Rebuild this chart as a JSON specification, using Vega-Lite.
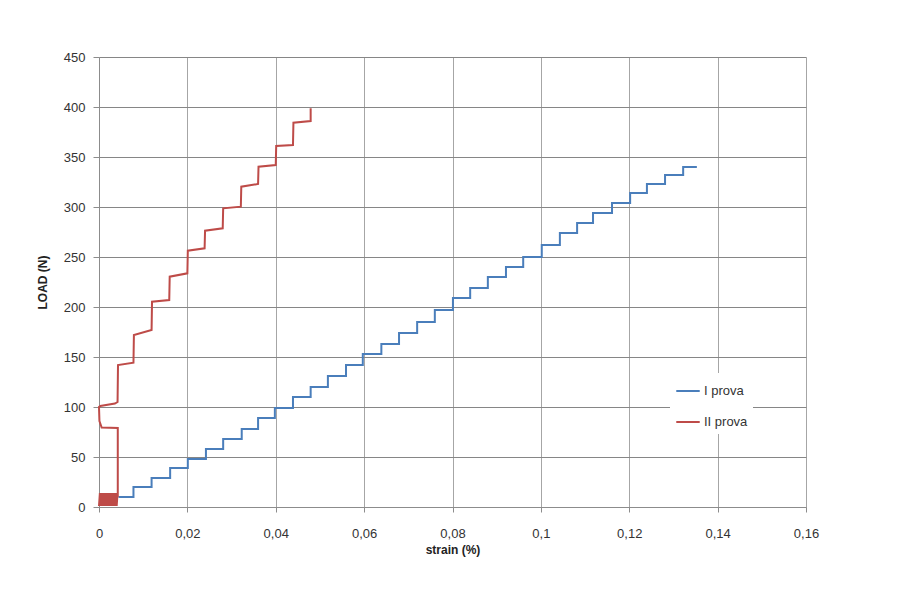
{
  "$schema": "https://vega.github.io/schema/vega-lite/v6.json",
  "width": 707,
  "height": 450,
  "autosize": {"type": "none"},
  "padding": {"left": 99, "top": 57, "right": 97, "bottom": 87},
  "background": "white",
  "config": {
    "view": {"stroke": null},
    "font": "Liberation Sans",
    "axis": {"labelFont": "Liberation Sans", "titleFont": "Liberation Sans", "labelColor": "#333333", "titleColor": "#222222", "labelFontSize": 13, "titleFontSize": 12, "titleFontWeight": "bold"},
    "legend": {"labelFont": "Liberation Sans"}
  },
  "data": {
    "values": [
      {"s": "I prova", "i": 0, "x": 0.0044, "y": 10},
      {"s": "I prova", "i": 1, "x": 0.0078, "y": 10},
      {"s": "I prova", "i": 2, "x": 0.0078, "y": 20},
      {"s": "I prova", "i": 3, "x": 0.0119, "y": 20},
      {"s": "I prova", "i": 4, "x": 0.0119, "y": 29},
      {"s": "I prova", "i": 5, "x": 0.0161, "y": 29},
      {"s": "I prova", "i": 6, "x": 0.0161, "y": 39},
      {"s": "I prova", "i": 7, "x": 0.0201, "y": 39},
      {"s": "I prova", "i": 8, "x": 0.0201, "y": 48},
      {"s": "I prova", "i": 9, "x": 0.0242, "y": 48},
      {"s": "I prova", "i": 10, "x": 0.0242, "y": 58},
      {"s": "I prova", "i": 11, "x": 0.0281, "y": 58},
      {"s": "I prova", "i": 12, "x": 0.0281, "y": 68},
      {"s": "I prova", "i": 13, "x": 0.0323, "y": 68},
      {"s": "I prova", "i": 14, "x": 0.0323, "y": 78},
      {"s": "I prova", "i": 15, "x": 0.036, "y": 78},
      {"s": "I prova", "i": 16, "x": 0.036, "y": 89},
      {"s": "I prova", "i": 17, "x": 0.0398, "y": 89},
      {"s": "I prova", "i": 18, "x": 0.0398, "y": 99},
      {"s": "I prova", "i": 19, "x": 0.0439, "y": 99},
      {"s": "I prova", "i": 20, "x": 0.0439, "y": 110},
      {"s": "I prova", "i": 21, "x": 0.0479, "y": 110},
      {"s": "I prova", "i": 22, "x": 0.0479, "y": 120},
      {"s": "I prova", "i": 23, "x": 0.0518, "y": 120},
      {"s": "I prova", "i": 24, "x": 0.0518, "y": 131},
      {"s": "I prova", "i": 25, "x": 0.0559, "y": 131},
      {"s": "I prova", "i": 26, "x": 0.0559, "y": 142},
      {"s": "I prova", "i": 27, "x": 0.0597, "y": 142},
      {"s": "I prova", "i": 28, "x": 0.0597, "y": 153},
      {"s": "I prova", "i": 29, "x": 0.0639, "y": 153},
      {"s": "I prova", "i": 30, "x": 0.0639, "y": 163},
      {"s": "I prova", "i": 31, "x": 0.0679, "y": 163},
      {"s": "I prova", "i": 32, "x": 0.0679, "y": 174},
      {"s": "I prova", "i": 33, "x": 0.072, "y": 174},
      {"s": "I prova", "i": 34, "x": 0.072, "y": 185},
      {"s": "I prova", "i": 35, "x": 0.076, "y": 185},
      {"s": "I prova", "i": 36, "x": 0.076, "y": 197},
      {"s": "I prova", "i": 37, "x": 0.0801, "y": 197},
      {"s": "I prova", "i": 38, "x": 0.0801, "y": 209},
      {"s": "I prova", "i": 39, "x": 0.084, "y": 209},
      {"s": "I prova", "i": 40, "x": 0.084, "y": 219},
      {"s": "I prova", "i": 41, "x": 0.088, "y": 219},
      {"s": "I prova", "i": 42, "x": 0.088, "y": 230},
      {"s": "I prova", "i": 43, "x": 0.0921, "y": 230},
      {"s": "I prova", "i": 44, "x": 0.0921, "y": 240},
      {"s": "I prova", "i": 45, "x": 0.096, "y": 240},
      {"s": "I prova", "i": 46, "x": 0.096, "y": 250},
      {"s": "I prova", "i": 47, "x": 0.1002, "y": 250},
      {"s": "I prova", "i": 48, "x": 0.1002, "y": 262},
      {"s": "I prova", "i": 49, "x": 0.1043, "y": 262},
      {"s": "I prova", "i": 50, "x": 0.1043, "y": 274},
      {"s": "I prova", "i": 51, "x": 0.1082, "y": 274},
      {"s": "I prova", "i": 52, "x": 0.1082, "y": 284},
      {"s": "I prova", "i": 53, "x": 0.1118, "y": 284},
      {"s": "I prova", "i": 54, "x": 0.1118, "y": 294},
      {"s": "I prova", "i": 55, "x": 0.1161, "y": 294},
      {"s": "I prova", "i": 56, "x": 0.1161, "y": 304},
      {"s": "I prova", "i": 57, "x": 0.1202, "y": 304},
      {"s": "I prova", "i": 58, "x": 0.1202, "y": 314},
      {"s": "I prova", "i": 59, "x": 0.124, "y": 314},
      {"s": "I prova", "i": 60, "x": 0.124, "y": 323},
      {"s": "I prova", "i": 61, "x": 0.1281, "y": 323},
      {"s": "I prova", "i": 62, "x": 0.1281, "y": 332},
      {"s": "I prova", "i": 63, "x": 0.1322, "y": 332},
      {"s": "I prova", "i": 64, "x": 0.1322, "y": 340},
      {"s": "I prova", "i": 65, "x": 0.1353, "y": 340},
      {"s": "II prova", "i": 0, "x": 0.0, "y": 1},
      {"s": "II prova", "i": 1, "x": 0.0002, "y": 14},
      {"s": "II prova", "i": 2, "x": 0.0004, "y": 1},
      {"s": "II prova", "i": 3, "x": 0.0006, "y": 14},
      {"s": "II prova", "i": 4, "x": 0.0008, "y": 1},
      {"s": "II prova", "i": 5, "x": 0.001, "y": 14},
      {"s": "II prova", "i": 6, "x": 0.0012, "y": 1},
      {"s": "II prova", "i": 7, "x": 0.0014, "y": 14},
      {"s": "II prova", "i": 8, "x": 0.0016, "y": 1},
      {"s": "II prova", "i": 9, "x": 0.0018, "y": 14},
      {"s": "II prova", "i": 10, "x": 0.002, "y": 1},
      {"s": "II prova", "i": 11, "x": 0.0022, "y": 14},
      {"s": "II prova", "i": 12, "x": 0.0024, "y": 1},
      {"s": "II prova", "i": 13, "x": 0.0026, "y": 14},
      {"s": "II prova", "i": 14, "x": 0.0028, "y": 1},
      {"s": "II prova", "i": 15, "x": 0.003, "y": 14},
      {"s": "II prova", "i": 16, "x": 0.0032, "y": 1},
      {"s": "II prova", "i": 17, "x": 0.0034, "y": 14},
      {"s": "II prova", "i": 18, "x": 0.0036, "y": 1},
      {"s": "II prova", "i": 19, "x": 0.0038, "y": 14},
      {"s": "II prova", "i": 20, "x": 0.004, "y": 1},
      {"s": "II prova", "i": 21, "x": 0.0042, "y": 14},
      {"s": "II prova", "i": 22, "x": 0.00425, "y": 10},
      {"s": "II prova", "i": 23, "x": 0.00425, "y": 79},
      {"s": "II prova", "i": 24, "x": 0.0006, "y": 79.5},
      {"s": "II prova", "i": 25, "x": 0.0001, "y": 86},
      {"s": "II prova", "i": 26, "x": 0.0, "y": 100},
      {"s": "II prova", "i": 27, "x": 0.0003, "y": 101},
      {"s": "II prova", "i": 28, "x": 0.0036, "y": 103.5},
      {"s": "II prova", "i": 29, "x": 0.0042, "y": 105},
      {"s": "II prova", "i": 30, "x": 0.0043, "y": 142},
      {"s": "II prova", "i": 31, "x": 0.0078, "y": 144.3},
      {"s": "II prova", "i": 32, "x": 0.0079, "y": 172},
      {"s": "II prova", "i": 33, "x": 0.0119, "y": 177},
      {"s": "II prova", "i": 34, "x": 0.012, "y": 205.3},
      {"s": "II prova", "i": 35, "x": 0.0159, "y": 207},
      {"s": "II prova", "i": 36, "x": 0.016, "y": 230.3},
      {"s": "II prova", "i": 37, "x": 0.02, "y": 233.7},
      {"s": "II prova", "i": 38, "x": 0.0201, "y": 256.3},
      {"s": "II prova", "i": 39, "x": 0.0239, "y": 258.7},
      {"s": "II prova", "i": 40, "x": 0.024, "y": 276.3},
      {"s": "II prova", "i": 41, "x": 0.028, "y": 278.7},
      {"s": "II prova", "i": 42, "x": 0.0281, "y": 298.7},
      {"s": "II prova", "i": 43, "x": 0.0321, "y": 300.3},
      {"s": "II prova", "i": 44, "x": 0.0322, "y": 320.3},
      {"s": "II prova", "i": 45, "x": 0.036, "y": 323},
      {"s": "II prova", "i": 46, "x": 0.0361, "y": 340.3},
      {"s": "II prova", "i": 47, "x": 0.04, "y": 342},
      {"s": "II prova", "i": 48, "x": 0.0401, "y": 361},
      {"s": "II prova", "i": 49, "x": 0.0439, "y": 362},
      {"s": "II prova", "i": 50, "x": 0.044, "y": 384.3},
      {"s": "II prova", "i": 51, "x": 0.0479, "y": 386},
      {"s": "II prova", "i": 52, "x": 0.0479, "y": 398.7}
    ]
  },
  "mark": {"type": "line", "strokeWidth": 2, "strokeJoin": "miter"},
  "encoding": {
    "x": {
      "field": "x", "type": "quantitative",
      "scale": {"domain": [0, 0.16], "nice": false, "zero": false},
      "axis": {
        "title": "strain (%)",
        "values": [0, 0.02, 0.04, 0.06, 0.08, 0.1, 0.12, 0.14, 0.16],
        "labelExpr": "replace(format(datum.value, '.2~f'), '.', ',')",
        "grid": true, "gridColor": "#a6a6a6", "gridWidth": 1, "gridOpacity": 1,
        "domainColor": "#8c8c8c", "tickColor": "#8c8c8c", "tickSize": 5,
        "labelPadding": 15, "titlePadding": 4, "labelFlush": false
      }
    },
    "y": {
      "field": "y", "type": "quantitative",
      "scale": {"domain": [0, 450], "nice": false},
      "axis": {
        "title": "LOAD (N)",
        "values": [0, 50, 100, 150, 200, 250, 300, 350, 400, 450],
        "grid": true, "gridColor": "#868686", "gridWidth": 1, "gridOpacity": 1,
        "domainColor": "#8c8c8c", "tickColor": "#8c8c8c", "tickSize": 6,
        "labelPadding": 8, "titlePadding": 14
      }
    },
    "color": {
      "field": "s", "type": "nominal",
      "scale": {"domain": ["I prova", "II prova"], "range": ["#4a7ebb", "#be4b48"]},
      "legend": {
        "title": null, "orient": "none", "legendX": 571, "legendY": 316,
        "symbolType": "stroke", "symbolSize": 550, "symbolStrokeWidth": 2,
        "labelFontSize": 13, "labelColor": "#333333", "rowPadding": 11,
        "fillColor": "white", "padding": 5, "labelOffset": 3
      }
    },
    "order": {"field": "i", "type": "quantitative"}
  }
}
